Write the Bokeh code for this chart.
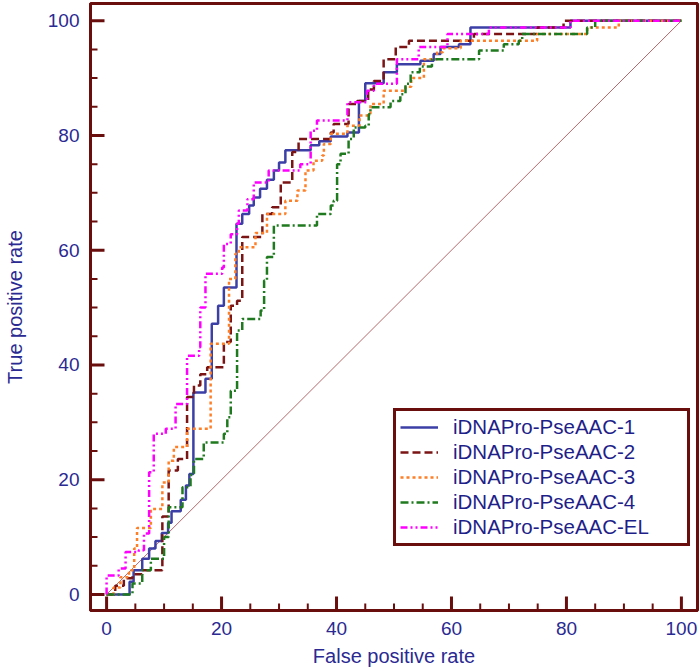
from bokeh.plotting import figure
from bokeh.models import Range1d, SingleIntervalTicker, Legend, ColumnDataSource
from bokeh.embed import file_html
from bokeh.resources import INLINE

# ROC curves (false positive rate %, true positive rate %) - step vertices
fpr_1 = [0, 4.0, 4.7, 6.2, 7.4, 8.5, 9.6, 10.7, 11.3, 12.9, 13.8, 14.4, 15.1, 17.2, 18.3, 19.4, 20.4, 22.6, 23.6, 24.8,
         25.6, 26.7, 27.9, 29.1, 30.0, 31.1, 35.5, 37.0, 39.0, 41.9, 43.9, 45.0, 48.2, 50.5, 54.6, 56.9, 58.1, 61.3,
         63.3, 80.7, 100]
tpr_1 = [0, 2.2, 4.2, 6.2, 8.0, 9.3, 10.7, 12.5, 14.5, 16.5, 19.0, 21.0, 35.2, 37.6, 47.2, 50.3, 53.5, 64.6, 66.3, 67.8,
         69.2, 70.7, 72.3, 73.9, 75.3, 77.4, 78.3, 79.0, 79.8, 80.5, 86.0, 89.1, 91.0, 92.4, 93.0, 94.2, 95.4, 95.9,
         98.8, 100, 100]

fpr_2 = [0, 1.5, 3.0, 4.5, 6.2, 9.7, 10.8, 12.4, 14.0, 15.2, 16.3, 17.5, 20.4, 21.6, 22.7, 23.6, 27.1, 28.8, 30.3, 32.3,
         33.4, 39.0, 39.5, 42.1, 43.6, 45.5, 46.5, 48.2, 50.3, 52.6, 63.9, 74.9, 79.5, 100]
tpr_2 = [0, 1.5, 2.8, 3.5, 4.2, 13.6, 21.6, 23.6, 34.4, 36.4, 38.4, 39.6, 44.0, 50.3, 51.2, 62.3, 66.3, 67.5, 71.8, 77.1,
         79.4, 80.5, 82.0, 85.5, 86.0, 88.0, 89.5, 93.3, 95.4, 96.5, 97.7, 98.8, 100, 100]

fpr_3 = [0, 1.2, 2.4, 3.9, 4.8, 5.3, 7.7, 9.7, 10.8, 11.7, 14.0, 18.1, 21.3, 22.4, 23.0, 25.9, 27.9, 31.1, 33.2, 34.6,
         36.0, 37.5, 37.8, 39.0, 41.9, 44.0, 45.9, 48.2, 52.0, 53.0, 55.2, 57.5, 58.5, 61.6, 74.9, 83.6, 89.1, 100]
tpr_3 = [0, 1.2, 3.0, 4.2, 8.0, 11.6, 14.9, 19.5, 23.3, 25.7, 28.9, 43.7, 55.0, 59.4, 60.5, 63.0, 66.3, 68.6, 70.4, 73.9,
         75.6, 76.5, 78.5, 80.3, 81.7, 83.5, 85.5, 87.8, 88.5, 90.0, 93.3, 94.5, 95.2, 96.5, 97.7, 98.8, 100, 100]

fpr_4 = [0, 4.5, 6.2, 7.7, 10.0, 10.8, 13.2, 14.6, 15.2, 16.9, 20.4, 21.0, 21.6, 22.7, 23.6, 26.8, 27.4, 27.9, 29.1, 36.6,
         39.0, 39.5, 40.1, 40.7, 42.1, 43.0, 45.0, 45.6, 45.9, 49.4, 51.1, 52.0, 52.9, 54.5, 56.6, 64.8, 69.1, 71.7,
         72.3, 83.6, 85.0, 100]
tpr_4 = [0, 1.9, 4.2, 6.2, 10.0, 15.2, 18.7, 20.8, 23.6, 26.5, 28.0, 30.9, 35.5, 46.0, 48.0, 49.5, 54.7, 58.8, 64.3, 66.3,
         67.8, 68.6, 75.0, 76.8, 79.4, 81.4, 81.7, 83.7, 84.9, 86.0, 87.2, 89.0, 91.0, 92.0, 93.3, 94.8, 95.9, 96.5,
         97.7, 98.8, 100, 100]

fpr_el = [0, 0, 2.1, 3.3, 5.6, 6.5, 7.4, 8.2, 10.3, 12.0, 14.0, 16.1, 16.3, 17.2, 20.1, 20.4, 21.6, 22.7, 23.0, 24.5,
          25.6, 28.2, 33.7, 35.5, 36.6, 41.9, 45.3, 46.5, 50.5, 54.3, 59.3, 66.5, 80.7, 100]
tpr_el = [0, 3.3, 4.5, 7.4, 7.7, 10.6, 21.3, 28.0, 28.9, 33.2, 41.6, 43.1, 50.0, 55.9, 57.0, 61.1, 62.8, 64.6, 66.9, 68.9,
          71.8, 73.9, 75.0, 80.8, 82.6, 85.8, 87.8, 89.0, 93.3, 95.4, 97.7, 98.8, 100, 100]

chance_x = [0, 100]
chance_y = [0, 100]

major_ticks = [0, 20, 40, 60, 80, 100]
minor_ticks = [5, 10, 15, 25, 30, 35, 45, 50, 55, 65, 70, 75, 85, 90, 95]

labels = ["iDNAPro-PseAAC-1", "iDNAPro-PseAAC-2", "iDNAPro-PseAAC-3", "iDNAPro-PseAAC-4", "iDNAPro-PseAAC-EL"]

FRAME = "#6a0d0d"
TXT = "#2a2a92"
FONT = "Liberation Sans"

X0, X1 = -2.8, 102.8
Y0, Y1 = -2.8, 103.0
W, H = 700, 672
BL, BR, BT, BB = 90, 3, 3, 62

p = figure(width=W, height=H, output_backend="svg", toolbar_location=None,
           x_range=Range1d(X0, X1), y_range=Range1d(Y0, Y1),
           min_border_left=BL, min_border_right=BR, min_border_top=BT, min_border_bottom=BB)
p.background_fill_color = "white"
p.border_fill_color = "white"
p.outline_line_color = FRAME
p.outline_line_width = 3
p.xgrid.visible = False
p.ygrid.visible = False

for ax, lab, stand, tstand in ((p.xaxis[0], "False positive rate", 7, 11), (p.yaxis[0], "True positive rate", 19, 11)):
    ax.ticker = SingleIntervalTicker(interval=20, num_minor_ticks=4)
    ax.axis_label = lab
    ax.axis_label_text_font = FONT
    ax.axis_label_text_font_size = "20px"
    ax.axis_label_text_font_style = "normal"
    ax.axis_label_text_color = TXT
    ax.axis_label_standoff = stand
    ax.major_label_text_font = FONT
    ax.major_label_text_font_size = "19px"
    ax.major_label_text_color = TXT
    ax.major_label_standoff = tstand
    ax.axis_line_color = FRAME
    ax.axis_line_width = 3
    ax.major_tick_in = 0
    ax.major_tick_out = 0
    ax.minor_tick_in = 0
    ax.minor_tick_out = 0

# inward ticks drawn as quads lying fully inside the frame (pixel sizes converted to data units)
ux = (W - BL - BR) / (X1 - X0)
uy = (H - BT - BB) / (Y1 - Y0)
maj_len, min_len, maj_w, min_w = 14, 7, 3, 2
xb = ColumnDataSource(dict(
    left=[t - maj_w / 2 / ux for t in major_ticks] + [t - min_w / 2 / ux for t in minor_ticks],
    right=[t + maj_w / 2 / ux for t in major_ticks] + [t + min_w / 2 / ux for t in minor_ticks],
    bottom=[Y0 + 1 / uy] * (len(major_ticks) + len(minor_ticks)),
    top=[Y0 + maj_len / uy] * len(major_ticks) + [Y0 + min_len / uy] * len(minor_ticks)))
yb = ColumnDataSource(dict(
    left=[X0 + 1 / ux] * (len(major_ticks) + len(minor_ticks)),
    right=[X0 + maj_len / ux] * len(major_ticks) + [X0 + min_len / ux] * len(minor_ticks),
    bottom=[t - maj_w / 2 / uy for t in major_ticks] + [t - min_w / 2 / uy for t in minor_ticks],
    top=[t + maj_w / 2 / uy for t in major_ticks] + [t + min_w / 2 / uy for t in minor_ticks]))
p.quad(left="left", right="right", bottom="bottom", top="top", source=xb, fill_color=FRAME, line_color=None)
p.quad(left="left", right="right", bottom="bottom", top="top", source=yb, fill_color=FRAME, line_color=None)

p.line(chance_x, chance_y, line_color="#b36a6a", line_width=1)

r1 = p.step(fpr_1, tpr_1, mode="after", line_color="#3b3fa6", line_width=2.5)
r2 = p.step(fpr_2, tpr_2, mode="after", line_color="#7b1414", line_width=2.5, line_dash="8 4")
r3 = p.step(fpr_3, tpr_3, mode="after", line_color="#ff7f27", line_width=2.5, line_dash="3 3")
r4 = p.step(fpr_4, tpr_4, mode="after", line_color="#1f7a1f", line_width=2.5, line_dash="8 3 2 3")
r5 = p.step(fpr_el, tpr_el, mode="after", line_color="#ff00ff", line_width=2.5, line_dash="7 3 2 3 2 3")

legend = Legend(items=[(labels[0], [r1]), (labels[1], [r2]), (labels[2], [r3]), (labels[3], [r4]), (labels[4], [r5])],
                location=(303, 64))
legend.border_line_color = FRAME
legend.border_line_alpha = 1.0
legend.border_line_width = 3
legend.background_fill_color = "white"
legend.background_fill_alpha = 1
legend.padding = 4
legend.spacing = 1
legend.margin = 0
legend.label_text_font = FONT
legend.label_text_font_size = "20.5px"
legend.label_text_color = "#1f1f8a"
legend.label_standoff = 15
legend.label_height = 22
legend.label_width = 230
legend.glyph_width = 38
legend.glyph_height = 20
p.add_layout(legend, "center")

open("out.html", "w").write(file_html(p, INLINE))
